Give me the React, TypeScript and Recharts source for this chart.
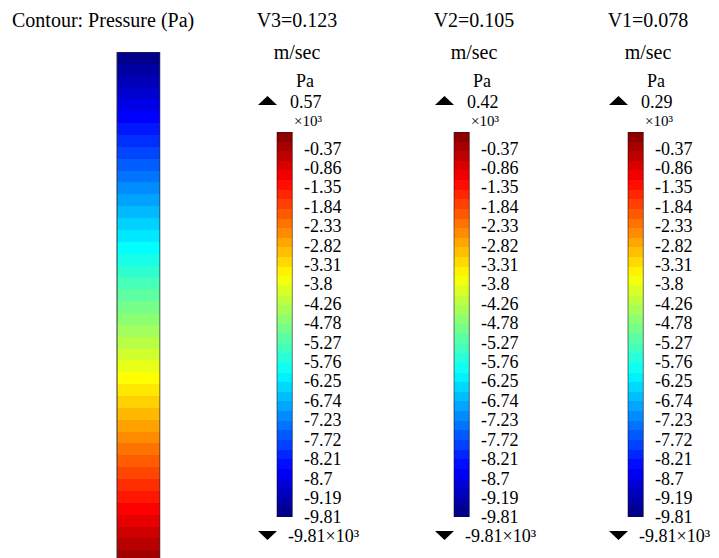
import React from 'react';
import { BarChart, Bar, XAxis, YAxis } from 'recharts';

// ---- data ----
const legendNames = ['V3=0.123', 'V2=0.105', 'V1=0.078'];
const legendUnit = 'm/sec';
const legendMax = ['0.57', '0.42', '0.29'];
const legendMin = '-9.81';
const levelLabels = [
  '-0.37', '-0.86', '-1.35', '-1.84', '-2.33', '-2.82', '-3.31', '-3.8', '-4.26', '-4.78',
  '-5.27', '-5.76', '-6.25', '-6.74', '-7.23', '-7.72', '-8.21', '-8.7', '-9.19', '-9.81',
];
const levelTicks = levelLabels.map((_, i) => i);
const barSpan: [number, number] = [-0.83, 19];
const contourRange: [number, number] = [-9.81, 0.57];

// ---- styles ----
const W = 719;
const H = 558;
const SERIF = 'Liberation Serif, Tinos, DejaVu Serif, serif';
const BAR_LEFT = [276, 453, 627];
const BAR_W = 17;

function jet(t: number): string {
  const c = (x: number) => Math.round(255 * Math.max(0, Math.min(1, x)));
  const r = c(1.5 - Math.abs(4 * t - 3));
  const g = c(1.5 - Math.abs(4 * t - 2));
  const b = c(1.5 - Math.abs(4 * t - 1));
  return `rgb(${r},${g},${b})`;
}

function bandStops(n: number, reverse: boolean) {
  const stops: React.ReactElement[] = [];
  for (let i = 0; i < n; i++) {
    const t = (i + 0.5) / n;
    const col = jet(reverse ? 1 - t : t);
    stops.push(<stop key={`a${i}`} offset={i / n} stopColor={col} />);
    stops.push(<stop key={`b${i}`} offset={(i + 1) / n} stopColor={col} />);
  }
  return stops;
}

function SmallLegend({ left, name }: { left: number; name: string }) {
  const data = [{ name, span: barSpan }];
  return (
    <div style={{ position: 'absolute', left, top: 0 }}>
      <BarChart
        width={BAR_W + 80}
        height={H}
        data={data}
        margin={{ top: 132, bottom: 41, left: 0, right: 0 }}
        barCategoryGap={0}
        style={{ fontFamily: SERIF }}
      >
        <XAxis dataKey="name" hide />
        <YAxis
          orientation="right"
          type="number"
          domain={barSpan}
          reversed
          allowDataOverflow
          ticks={levelTicks}
          interval={0}
          tickFormatter={(v: number) => levelLabels[v]}
          axisLine={false}
          tickLine={false}
          tickSize={0}
          tickMargin={11}
          width={80}
          tick={{ fontSize: 18, fill: '#000', style: { fontFamily: SERIF } }}
        />
        <Bar
          dataKey="span"
          fill="url(#jetSmall)"
          stroke="rgba(30,10,10,0.55)"
          strokeWidth={1}
          barSize={BAR_W}
          isAnimationActive={false}
        />
      </BarChart>
    </div>
  );
}

function BigBar() {
  const data = [{ name: 'contour', span: contourRange }];
  return (
    <div style={{ position: 'absolute', left: 116, top: 0 }}>
      <BarChart
        width={44}
        height={H + 16}
        data={data}
        margin={{ top: 52, bottom: 0, left: 0, right: 0 }}
        barCategoryGap={0}
      >
        <XAxis dataKey="name" hide />
        <YAxis type="number" domain={contourRange} reversed hide allowDataOverflow />
        <Bar
          dataKey="span"
          fill="url(#jetBig)"
          stroke="#333"
          strokeWidth={1}
          barSize={43}
          isAnimationActive={false}
        />
      </BarChart>
    </div>
  );
}

export default function App() {
  const t = { fontFamily: SERIF };
  return (
    <div
      style={{
        position: 'absolute',
        left: 0,
        top: 0,
        width: W,
        height: H,
        overflow: 'hidden',
        background: '#fff',
        fontFamily: SERIF,
      }}
    >
      <BigBar />
      {legendNames.map((n, i) => (
        <SmallLegend key={n} left={BAR_LEFT[i]} name={n} />
      ))}
      <svg
        width={W}
        height={H}
        style={{ position: 'absolute', left: 0, top: 0, pointerEvents: 'none', fontFamily: SERIF }}
      >
        <defs>
          <linearGradient id="jetSmall" x1="0" y1="0" x2="0" y2="1">
            {bandStops(40, true)}
          </linearGradient>
          <linearGradient id="jetBig" x1="0" y1="0" x2="0" y2="1">
            {bandStops(44, false)}
          </linearGradient>
        </defs>
        <line x1={160.5} y1={52} x2={160.5} y2={H} stroke="#ccc" strokeWidth={1} />
        <text x={12} y={20} dominantBaseline="central" style={t} fontSize={20} fill="#000">
          Contour: Pressure (Pa)
        </text>
        {legendNames.map((n, i) => {
          const bx = BAR_LEFT[i];
          return (
            <g key={n} fill="#000" style={t}>
              <text x={bx + 21} y={20} textAnchor="middle" dominantBaseline="central" fontSize={20}>
                {n}
              </text>
              <text x={bx + 21} y={52} textAnchor="middle" dominantBaseline="central" fontSize={20}>
                {legendUnit}
              </text>
              <text x={bx + 29} y={81} textAnchor="middle" dominantBaseline="central" fontSize={18}>
                Pa
              </text>
              <polygon points={`${bx - 18},${105} ${bx + 1},${105} ${bx - 8.5},${96}`} fill="#000" />
              <text x={bx + 14} y={102} dominantBaseline="central" fontSize={18}>
                {legendMax[i]}
              </text>
              <text x={bx + 18} y={121} dominantBaseline="central" fontSize={15}>
                ×10³
              </text>
              <polygon points={`${bx - 18},${531} ${bx + 1},${531} ${bx - 8.5},${540}`} fill="#000" />
              <text x={bx + 12} y={536} dominantBaseline="central" fontSize={18}>
                {legendMin}×10³
              </text>
            </g>
          );
        })}
      </svg>
    </div>
  );
}
